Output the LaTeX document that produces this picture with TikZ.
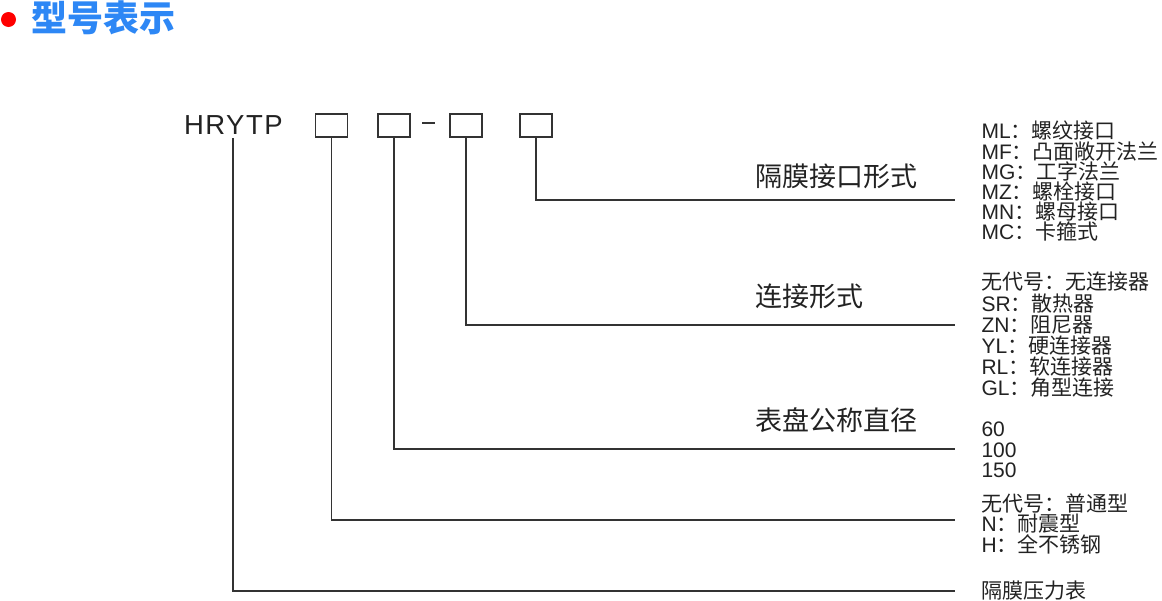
\documentclass[tikz,border=0pt]{standalone}
\usepackage{fontspec}
\setmainfont{Liberation Sans}
\newfontfamily\cjk{Noto Sans CJK SC}
\newfontfamily\codefont[LetterSpace=5.5]{Liberation Sans}
\usetikzlibrary{positioning,calc}
\definecolor{titleblue}{RGB}{45,135,245}
\definecolor{linegray}{RGB}{51,51,51}
\definecolor{textgray}{RGB}{34,34,34}
\setlength{\lineskiplimit}{-20pt}

\begin{document}
\begin{tikzpicture}[x=1pt,y=-1pt,
    every node/.style={inner sep=0pt,outer sep=0pt,text=textgray},
    codebox/.style={draw=linegray,line width=1.8pt,minimum width=32pt,minimum height=23pt},
    leader/.style={draw=linegray,line width=1.8pt},
    caption/.style={anchor=west,font=\cjk\fontsize{27}{27}\selectfont},
    options/.style={anchor=west,align=left,font=\fontsize{21}{20.7}\selectfont}
    ]
    \useasboundingbox (0,0) rectangle (1162,600);

    %heading
    \fill[red] (8.5,19.5) circle (7.5);
    \node[anchor=west,text=titleblue,font=\cjk\bfseries\fontsize{36}{36}\selectfont] (title) at (31,18) {型号表示};

    %model code with its blank fields
    \node[anchor=base west,font=\codefont\fontsize{27.5}{27.5}\selectfont] (code) at (184,134) {HRYTP};
    \node[codebox] (b1) at (331.5,125.5) {};
    \node[codebox] (b2) at (394,125.5) {};
    \node[codebox] (b3) at (466,125.5) {};
    \node[codebox] (b4) at (536,125.5) {};
    \draw[leader] (422,123) -- (435,123); %hyphen between fields

    %ends of the leader lines
    \coordinate (e4) at (955,200);
    \coordinate (e3) at (955,325);
    \coordinate (e2) at (955,449);
    \coordinate (e1) at (955,520);
    \coordinate (e0) at (955,591);

    \draw[leader] (b4.south) |- (e4);
    \draw[leader] (b3.south) |- (e3);
    \draw[leader] (b2.south) |- (e2);
    \draw[leader] (b1.south) |- (e1);
    \draw[leader] ([yshift=-4pt]code.south) |- (e0);

    %field names above the lines
    \node[caption] (iface) at (755.5,176) {隔膜接口形式};
    \node[caption] (conn) at (755.5,296) {连接形式};
    \node[caption] (dial) at (755.5,420) {表盘公称直径};

    %codes of each field
    \node[options,font=\fontsize{21}{20.2}\selectfont] (ifaceopt) at (981.5,181.5)
        {ML{\cjk ：螺纹接口}\\MF{\cjk ：凸面敞开法兰}\\MG{\cjk ：工字法兰}\\MZ{\cjk ：螺栓接口}\\MN{\cjk ：螺母接口}\\MC{\cjk ：卡箍式}};
    \node[options,font=\fontsize{21}{21.2}\selectfont] (connopt) at (981.5,335)
        {{\cjk 无代号：无连接器}\\SR{\cjk ：散热器}\\ZN{\cjk ：阻尼器}\\YL{\cjk ：硬连接器}\\RL{\cjk ：软连接器}\\GL{\cjk ：角型连接}};
    \node[options] (dialopt) at (981.5,450) {60\\100\\150};
    \node[options] (typeopt) at (981.5,524)
        {{\cjk 无代号：普通型}\\N{\cjk ：耐震型}\\H{\cjk ：全不锈钢}};
    \node[options,font=\cjk\fontsize{21}{21}\selectfont] (nameopt) at (981.5,591) {隔膜压力表};
\end{tikzpicture}
\end{document}
